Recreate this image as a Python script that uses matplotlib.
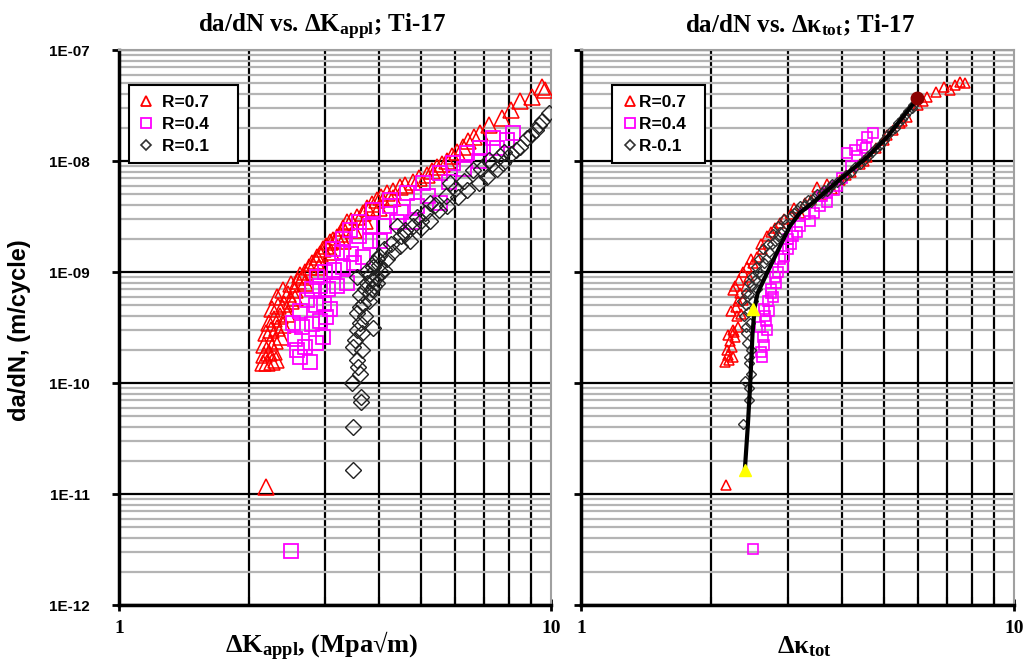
import matplotlib
matplotlib.use("Agg")
import matplotlib.pyplot as plt
from matplotlib.ticker import FixedLocator, FuncFormatter, NullFormatter
from matplotlib.lines import Line2D

plt.rcParams['mathtext.fontset'] = 'custom'
plt.rcParams['mathtext.rm'] = 'Liberation Serif:bold'
plt.rcParams['mathtext.bf'] = 'Liberation Serif:bold'
plt.rcParams['mathtext.it'] = 'Liberation Serif:bold'

# ---------------- data: left panel (da/dN vs dK_appl) ----------------
L07_x = [2.19, 2.15, 2.20, 2.26, 2.31, 2.16, 2.22, 2.28, 2.17, 2.23, 2.30, 2.37,
         2.19, 2.25, 2.32, 2.40, 2.22, 2.29, 2.36, 2.45, 2.26, 2.33, 2.41, 2.50,
         2.40, 2.32, 2.46, 2.55, 2.50, 2.60, 2.66, 2.70, 2.62, 2.75, 2.80, 2.87,
         2.85, 2.92, 2.96, 3.02, 3.08, 3.12, 3.19, 3.25, 3.30, 3.37, 3.45, 3.55,
         3.67, 3.75, 3.85, 3.96, 4.05, 4.17, 4.30, 4.47, 4.60, 4.79, 4.95, 5.16,
         5.30, 5.44, 5.60, 5.75, 5.90, 6.06, 6.25, 6.42, 6.65, 6.85, 7.20, 7.70,
         8.10, 8.46, 9.04, 9.53, 9.70, 2.55, 2.70, 2.90, 3.10, 3.30, 3.50, 3.70,
         4.00, 4.30]
L07_y = [1.15e-11, 1.5e-10, 1.5e-10, 1.55e-10, 1.6e-10, 1.8e-10, 1.85e-10, 1.9e-10,
         2.2e-10, 2.3e-10, 2.4e-10, 2.6e-10, 2.8e-10, 3.0e-10, 3.1e-10, 3.3e-10,
         3.5e-10, 3.8e-10, 4.0e-10, 4.2e-10, 4.6e-10, 4.9e-10, 5.2e-10, 5.5e-10,
         6.9e-10, 6.0e-10, 6.4e-10, 6.9e-10, 7.8e-10, 8.3e-10, 9.0e-10, 1.0e-9,
         9.5e-10, 1.1e-9, 1.2e-9, 1.37e-9, 1.25e-9, 1.45e-9, 1.6e-9, 1.7e-9,
         1.85e-9, 1.95e-9, 2.05e-9, 2.2e-9, 2.5e-9, 2.8e-9, 2.9e-9, 3.1e-9,
         3.4e-9, 3.8e-9, 4.1e-9, 4.5e-9, 4.7e-9, 5.1e-9, 5.4e-9, 5.8e-9,
         6.1e-9, 6.5e-9, 7.0e-9, 7.5e-9, 8.1e-9, 8.8e-9, 9.4e-9, 1.0e-8,
         1.1e-8, 1.2e-8, 1.35e-8, 1.5e-8, 1.65e-8, 1.8e-8, 2.1e-8, 2.45e-8,
         2.9e-8, 3.5e-8, 3.8e-8, 4.6e-8, 4.4e-8, 5.8e-10, 8.0e-10, 1.1e-9,
         1.5e-9, 1.9e-9, 2.4e-9, 2.9e-9, 3.8e-9, 4.6e-9]

L04_x = [2.50, 2.62, 2.77, 2.58, 2.70, 2.85, 2.96, 2.55, 2.53, 2.65, 2.80, 2.92,
         3.02, 2.62, 2.72, 2.85, 2.98, 3.08, 2.80, 2.92, 3.05, 3.20, 3.37, 2.87,
         3.00, 3.15, 3.30, 3.50, 3.13, 3.28, 3.45, 3.67, 3.42, 3.30, 3.60, 3.80,
         4.02, 3.60, 3.87, 3.80, 4.10, 4.40, 4.24, 4.24, 4.50, 4.79, 4.64, 4.90,
         5.06, 5.20, 5.53, 5.53, 5.93, 5.80, 6.40, 6.30, 6.85, 6.80, 7.33, 7.90,
         8.15, 7.50]
L04_y = [3.05e-12, 1.7e-10, 1.55e-10, 2.0e-10, 2.1e-10, 2.3e-10, 2.6e-10, 2.5e-10,
         3.5e-10, 3.2e-10, 3.4e-10, 3.6e-10, 3.9e-10, 4.5e-10, 5.6e-10, 5.0e-10,
         5.2e-10, 4.6e-10, 7.0e-10, 7.5e-10, 7.0e-10, 7.5e-10, 8.0e-10, 9.0e-10,
         1.0e-9, 1.05e-9, 1.1e-9, 1.2e-9, 1.6e-9, 1.5e-9, 1.45e-9, 1.37e-9,
         2.4e-9, 2.0e-9, 2.1e-9, 1.9e-9, 1.9e-9, 2.8e-9, 3.6e-9, 2.6e-9,
         2.6e-9, 2.8e-9, 3.9e-9, 4.5e-9, 3.5e-9, 2.8e-9, 5.1e-9, 3.9e-9,
         6.3e-9, 4.8e-9, 7.8e-9, 4.2e-9, 9.6e-9, 6.5e-9, 1.18e-8, 8.5e-9,
         1.3e-8, 1.0e-8, 1.6e-8, 1.55e-8, 1.8e-8, 1.3e-8]

L01_x = [3.48, 3.48, 3.63, 3.63, 3.46, 3.61, 3.56, 3.48, 3.51, 3.87, 3.61, 3.56,
         3.67, 3.61, 3.81, 3.75, 3.56, 3.96, 3.87, 3.70, 3.90, 4.17, 3.96, 4.05,
         4.47, 4.30, 4.71, 4.40, 4.60, 4.90, 5.00, 5.25, 5.25, 5.50, 5.75, 5.83,
         6.10, 6.40, 6.60, 6.80, 7.10, 7.20, 7.50, 7.75, 7.80, 8.10, 8.46, 8.80,
         9.24, 9.55, 9.90, 3.65, 3.70, 3.78, 3.85, 3.95, 4.00, 4.10, 3.80, 3.72,
         3.58, 3.66, 3.55, 3.62, 3.90, 4.00, 4.25, 4.50, 4.80, 5.10, 5.40, 5.70,
         6.00, 6.30, 6.90, 7.30, 7.60, 8.30, 9.00, 9.40, 3.85, 4.10, 4.60, 5.00]
L01_y = [1.64e-11, 4.0e-11, 6.8e-11, 7.5e-11, 1.0e-10, 1.2e-10, 1.6e-10, 2.1e-10,
         2.45e-10, 3.1e-10, 3.5e-10, 4.3e-10, 5.2e-10, 6.2e-10, 6.5e-10, 8.0e-10,
         9.0e-10, 9.0e-10, 1.1e-9, 7.0e-10, 7.5e-10, 1.3e-9, 1.3e-9, 1.0e-9,
         1.7e-9, 1.5e-9, 1.9e-9, 2.6e-9, 2.2e-9, 3.1e-9, 2.5e-9, 2.9e-9,
         4.2e-9, 3.6e-9, 3.9e-9, 6.3e-9, 4.7e-9, 5.5e-9, 8.3e-9, 6.3e-9,
         7.2e-9, 1.03e-8, 8.5e-9, 9.6e-9, 1.2e-8, 1.15e-8, 1.34e-8, 1.6e-8,
         1.9e-8, 2.3e-8, 2.7e-8, 2.8e-10, 4.0e-10, 5.5e-10, 7.0e-10, 8.0e-10,
         1.15e-9, 1.05e-9, 9.5e-10, 1.0e-9,
         1.4e-10, 2.0e-10, 3.0e-10, 4.8e-10, 1.2e-9, 1.4e-9, 1.8e-9, 2.1e-9,
         2.6e-9, 3.4e-9, 4.0e-9, 4.8e-9, 5.6e-9, 6.6e-9, 8.5e-9, 9.5e-9,
         1.1e-8, 1.25e-8, 1.7e-8, 2.1e-8, 8.5e-10, 1.6e-9, 2.4e-9, 2.9e-9]

# ---------------- data: right panel (da/dN vs dkappa_tot) ----------------
R07_x = [2.16, 2.15, 2.20, 2.25, 2.17, 2.23, 2.21, 2.27, 2.24, 2.30, 2.29, 2.34,
         2.24, 2.30, 2.37, 2.37, 2.40, 2.45, 2.55, 2.50, 2.62, 2.69, 2.75, 2.88,
         2.95, 3.05, 3.20, 3.30, 3.50, 3.60, 3.80, 3.96, 4.20, 4.40, 4.58, 4.80,
         5.00, 5.25, 5.45, 5.65, 6.00, 6.30, 6.60, 6.90, 7.30, 7.70,
         2.18, 2.26, 2.19, 2.28, 2.22, 2.33, 2.27, 2.32, 2.42, 2.47, 2.60, 2.80,
         3.10, 3.40, 3.70, 4.10, 4.50, 5.10, 5.50, 6.15, 7.50, 7.10]
R07_y = [1.2e-11, 1.56e-10, 1.6e-10, 1.7e-10, 2.0e-10, 2.1e-10, 2.4e-10, 2.6e-10,
         3.0e-10, 3.2e-10, 4.0e-10, 4.2e-10, 6.9e-10, 5.5e-10, 5.6e-10, 1.0e-9,
         7.5e-10, 9.0e-10, 1.37e-9, 1.2e-9, 1.6e-9, 2.1e-9, 2.3e-9, 2.75e-9,
         3.0e-9, 3.3e-9, 3.4e-9, 4.2e-9, 5.8e-9, 5.0e-9, 5.6e-9, 6.8e-9,
         8.0e-9, 9.5e-9, 1.08e-8, 1.3e-8, 1.55e-8, 1.9e-8, 2.2e-8, 2.5e-8,
         3.2e-8, 3.8e-8, 4.2e-8, 4.6e-8, 4.8e-8, 5.0e-8,
         1.8e-10, 2.9e-10, 2.7e-10, 4.8e-10, 4.5e-10, 6.5e-10, 7.5e-10, 8.5e-10,
         1.1e-9, 1.3e-9, 1.8e-9, 2.5e-9, 3.8e-9, 4.5e-9, 6.2e-9, 7.5e-9,
         1.0e-8, 1.7e-8, 2.3e-8, 3.5e-8, 5.2e-8, 4.4e-8]

R04_x = [2.49, 2.62, 2.60, 2.65, 2.69, 2.59, 2.66, 2.65, 2.72, 2.70, 2.77, 2.75,
         2.82, 2.80, 2.93, 2.88, 3.00, 3.09, 3.00, 3.20, 3.38, 3.30, 3.56, 3.70,
         3.85, 3.70, 4.00, 4.11, 4.20, 4.35, 4.45, 4.58, 4.72, 4.55,
         2.63, 2.68, 2.74, 2.85, 2.95, 3.05, 3.15, 3.45, 3.60, 3.90, 4.30]
R04_y = [3.2e-12, 1.7e-10, 1.9e-10, 2.2e-10, 3.0e-10, 3.2e-10, 4.0e-10, 4.6e-10,
         4.5e-10, 5.5e-10, 5.9e-10, 7.0e-10, 8.0e-10, 9.0e-10, 1.1e-9, 1.3e-9,
         1.6e-9, 2.1e-9, 2.0e-9, 2.6e-9, 2.9e-9, 3.3e-9, 3.9e-9, 4.3e-9,
         5.5e-9, 5.2e-9, 7.0e-9, 1.18e-8, 9.0e-9, 1.1e-8, 1.4e-8, 1.65e-8,
         1.8e-8, 1.3e-8,
         2.6e-10, 3.6e-10, 6.5e-10, 1.0e-9, 1.4e-9, 1.8e-9, 2.3e-9, 3.4e-9,
         4.8e-9, 6.0e-9, 1.25e-8]

R01_x = [2.37, 2.45, 2.39, 2.47, 2.42, 2.44, 2.40, 2.46, 2.43, 2.50, 2.45, 2.55,
         2.52, 2.60, 2.65, 2.72, 2.80, 2.88, 2.98, 3.05, 3.15, 3.30, 3.45, 3.60,
         3.75, 3.90, 4.10, 4.30, 4.50, 4.70, 4.90, 5.10, 5.30, 5.50, 5.70, 5.85,
         2.38, 2.41, 2.48, 2.58, 2.68, 2.76, 2.85, 3.10, 3.40, 3.70, 4.00, 4.40,
         2.36, 2.40, 2.44, 2.48, 2.53, 2.58, 2.63, 2.70, 2.78, 2.85, 2.95, 3.20,
         3.35, 3.50, 3.65, 3.80, 4.20, 4.60, 4.80, 5.00, 5.20, 5.40, 5.60, 5.80,
         2.45, 2.41, 2.47, 2.44]
R01_y = [4.3e-11, 7.0e-11, 1.05e-10, 1.2e-10, 2.3e-10, 1.7e-10, 2.8e-10, 3.5e-10,
         4.4e-10, 5.5e-10, 6.3e-10, 7.0e-10, 8.5e-10, 9.5e-10, 1.2e-9, 1.5e-9,
         1.9e-9, 2.3e-9, 2.7e-9, 3.2e-9, 3.6e-9, 4.0e-9, 4.6e-9, 5.2e-9,
         5.8e-9, 6.5e-9, 7.5e-9, 8.8e-9, 1.02e-8, 1.2e-8, 1.4e-8, 1.7e-8,
         2.0e-8, 2.4e-8, 2.8e-8, 3.2e-8, 4.0e-10, 5.0e-10, 7.5e-10, 1.0e-9,
         1.3e-9, 1.8e-9, 2.1e-9, 3.4e-9, 4.3e-9, 5.4e-9, 6.9e-9, 9.5e-9,
         5.5e-10, 6.5e-10, 8.0e-10, 9.0e-10, 1.1e-9, 1.3e-9, 1.6e-9, 1.8e-9,
         2.2e-9, 2.6e-9, 3.0e-9, 3.9e-9, 4.5e-9, 5.0e-9, 5.5e-9, 6.2e-9,
         8.0e-9, 1.1e-8, 1.3e-8, 1.55e-8, 1.85e-8, 2.2e-8, 2.6e-8, 3.0e-8,
         1.5e-10, 3.2e-10, 2.0e-10, 9.0e-11]

FIT_x = [2.39, 2.43, 2.46, 2.49, 2.52, 2.56, 2.69, 2.88, 3.04, 3.20, 3.50, 3.96,
         4.58, 5.10, 5.54, 5.97]
FIT_y = [1.64e-11, 4.3e-11, 1.0e-10, 2.8e-10, 4.9e-10, 6.5e-10, 9.8e-10, 1.7e-9,
         2.6e-9, 3.4e-9, 4.5e-9, 6.8e-9, 1.08e-8, 1.65e-8, 2.5e-8, 3.6e-8]
YEL_x = [2.39, 2.49]
YEL_y = [1.64e-11, 4.6e-10]
END_x = [5.97]
END_y = [3.7e-8]

ytick_vals = [1e-12, 1e-11, 1e-10, 1e-9, 1e-8, 1e-7]
ytick_labels = ['1E-12', '1E-11', '1E-10', '1E-09', '1E-08', '1E-07']
left_labels = ['R=0.7', 'R=0.4', 'R=0.1']
right_labels = ['R=0.7', 'R=0.4', 'R-0.1']

fig = plt.figure(figsize=(10.29, 6.61), dpi=100)
axL = fig.add_axes([0.1157, 0.0847, 0.4198, 0.8396])
axR = fig.add_axes([0.5646, 0.0847, 0.4208, 0.8396])

sans = 'Liberation Sans'
serif = 'Liberation Serif'


def style_axes(ax, show_ylabels):
    ax.set_xscale('log')
    ax.set_yscale('log')
    ax.set_xlim(1, 10)
    ax.set_ylim(1e-12, 1e-7)
    ax.xaxis.set_major_locator(FixedLocator([1, 10]))
    ax.xaxis.set_minor_locator(FixedLocator([2, 3, 4, 5, 6, 7, 8, 9]))
    ax.xaxis.set_minor_formatter(NullFormatter())
    ax.xaxis.set_major_formatter(FuncFormatter(lambda v, p: '%d' % round(v)))
    ax.yaxis.set_major_locator(FixedLocator(ytick_vals))
    minors = [m * 10.0 ** e for e in range(-12, -7) for m in range(2, 10)]
    ax.yaxis.set_minor_locator(FixedLocator(minors))
    ax.yaxis.set_minor_formatter(NullFormatter())
    if show_ylabels:
        ax.yaxis.set_major_formatter(FuncFormatter(
            lambda v, p: ytick_labels[ytick_vals.index(min(ytick_vals, key=lambda t: abs(t - v)))]))
    else:
        ax.yaxis.set_major_formatter(NullFormatter())
    ax.grid(True, which='minor', axis='y', color='#b4b4b4', lw=1.6, zorder=0)
    ax.grid(True, which='major', axis='y', color='black', lw=1.6, zorder=0)
    ax.grid(True, which='minor', axis='x', color='black', lw=1.6, zorder=0)
    ax.set_axisbelow(True)
    for s in ['top', 'right']:
        ax.spines[s].set_color('#a0a0a0')
        ax.spines[s].set_linewidth(1.5)
    for s in ['left', 'bottom']:
        ax.spines[s].set_color('black')
        ax.spines[s].set_linewidth(2.5)
    ax.tick_params(axis='y', which='major', direction='out', length=5, width=2,
                   labelsize=11, pad=16)
    ax.tick_params(axis='y', which='minor', length=0)
    ax.tick_params(axis='x', which='major', direction='inout', length=8, width=2,
                   labelsize=14, pad=7)
    ax.tick_params(axis='x', which='minor', direction='in', length=6, width=1.5)
    for lab in ax.get_yticklabels():
        lab.set_fontfamily(sans)
        lab.set_fontweight('bold')
    for lab in ax.get_xticklabels():
        lab.set_fontfamily(serif)
        lab.set_fontweight('bold')


style_axes(axL, True)
style_axes(axR, False)

# left panel markers
axL.plot(L07_x, L07_y, ls='none', marker='^', ms=11, mfc='none', mec='red', mew=1.1, zorder=3)
axL.plot(L04_x, L04_y, ls='none', marker='s', ms=10, mfc='none', mec='magenta', mew=1.3, zorder=4)
axL.plot(L01_x, L01_y, ls='none', marker='D', ms=8, mfc='none', mec='#202020', mew=1.0, zorder=5)

# right panel markers
axR.plot(R07_x, R07_y, ls='none', marker='^', ms=7.5, mfc='none', mec='red', mew=1.1, zorder=3)
axR.plot(R04_x, R04_y, ls='none', marker='s', ms=7, mfc='none', mec='magenta', mew=1.2, zorder=4)
axR.plot(R01_x, R01_y, ls='none', marker='D', ms=5.5, mfc='none', mec='#303030', mew=1.0, zorder=5)
axR.plot(FIT_x, FIT_y, color='black', lw=3, zorder=6)
axR.plot(YEL_x, YEL_y, ls='none', marker='^', ms=8, color='yellow', mec='yellow', zorder=7)
axR.plot(END_x, END_y, ls='none', marker='o', ms=9, color='#8b0000', zorder=7)


def add_legend(ax, labels, x0, textpad, tail):
    handles = [
        Line2D([], [], ls='none', marker='^', ms=7, mfc='none', mec='red', mew=1.3),
        Line2D([], [], ls='none', marker='s', ms=7, mfc='none', mec='magenta', mew=1.3),
        Line2D([], [], ls='none', marker='D', ms=5, mfc='none', mec='#303030', mew=1.2),
    ]
    leg = ax.legend(handles, [lab + tail for lab in labels], loc='upper left',
                    bbox_to_anchor=(x0, 0.937),
                    prop={'family': sans, 'weight': 'bold', 'size': 12.5},
                    frameon=True, fancybox=False, shadow=False, framealpha=1,
                    edgecolor='black', handlelength=0.9, handletextpad=textpad,
                    borderpad=0.55, labelspacing=0.4, borderaxespad=0)
    leg.get_frame().set_linewidth(1.5)
    leg.set_zorder(10)


add_legend(axL, left_labels, 0.023, 0.45, '    ')
add_legend(axR, right_labels, 0.072, 0.1, '  ')

title_font = dict(family=serif, weight='bold', size=18)
fig.text(322 / 1029, 1 - 32 / 661, r'da/dN vs. $\Delta\mathrm{K}_{\mathrm{appl}}$; Ti-17',
         ha='center', va='baseline', **title_font)
fig.text(800 / 1029, 1 - 32 / 661, r'da/dN vs. $\Delta\mathrm{κ}_{\mathrm{tot}}$; Ti-17',
         ha='center', va='baseline', **title_font)

xlab_font = dict(family=serif, weight='bold', size=19)
fig.text(322 / 1029, 8 / 661, r'$\Delta\mathrm{K}_{\mathrm{appl}}$, (Mpa√m)',
         ha='center', va='baseline', **xlab_font)
fig.text(804 / 1029, 8 / 661, r'$\Delta\mathrm{κ}_{\mathrm{tot}}$',
         ha='center', va='baseline', **xlab_font)

fig.text(20 / 1029, 0.5, 'da/dN, (m/cycle)', rotation=90, ha='center', va='center',
         family=sans, weight='bold', size=17)

fig.savefig('out.png', dpi=100)
